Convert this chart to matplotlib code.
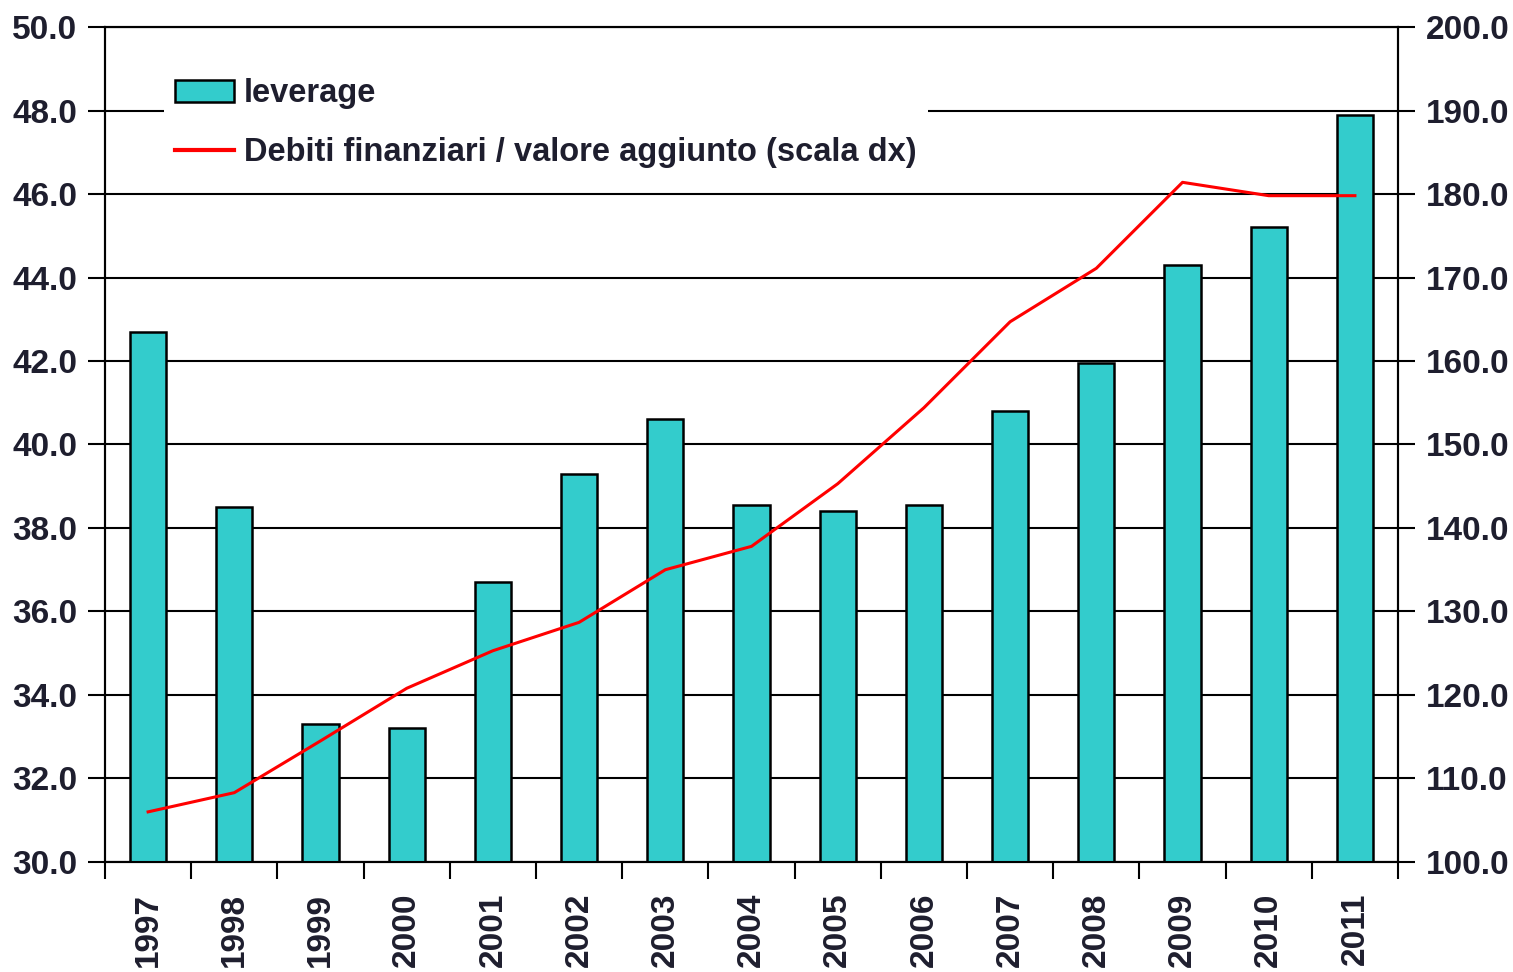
import matplotlib.pyplot as plt
from matplotlib.patches import Patch
from matplotlib.lines import Line2D

anni = ['1997', '1998', '1999', '2000', '2001', '2002', '2003', '2004',
        '2005', '2006', '2007', '2008', '2009', '2010', '2011']
leverage = [42.7, 38.5, 33.3, 33.2, 36.7, 39.3, 40.6, 38.55,
            38.4, 38.55, 40.8, 41.95, 44.3, 45.2, 47.9]
debiti_va = [106.0, 108.3, 114.5, 120.8, 125.3, 128.7, 135.0, 137.8,
             145.3, 154.4, 164.7, 171.1, 181.4, 179.8, 179.8]

sx_ticks = [30, 32, 34, 36, 38, 40, 42, 44, 46, 48, 50]
dx_ticks = [100, 110, 120, 130, 140, 150, 160, 170, 180, 190, 200]

plt.rcParams['font.family'] = ['Liberation Sans', 'DejaVu Sans']
colore_testo = '#1e1e2e'

fig = plt.figure(figsize=(15.13, 9.72), dpi=100)
ax = fig.add_axes([0.0694, 0.1132, 0.8546, 0.859])
ax2 = ax.twinx()

x = list(range(len(anni)))
ax.bar(x, leverage, width=0.42, color='#33CCCC', edgecolor='black',
       linewidth=1.8, zorder=3)
ax2.plot(x, debiti_va, color='#FF0000', linewidth=2.2, zorder=4)

ax.set_ylim(30, 50)
ax2.set_ylim(100, 200)
ax.set_xlim(-0.5, len(anni) - 0.5)
ax.set_yticks(sx_ticks)
ax.set_yticklabels([f'{v:.1f}' for v in sx_ticks])
ax2.set_yticks(dx_ticks)
ax2.set_yticklabels([f'{v:.1f}' for v in dx_ticks])
ax.grid(axis='y', color='black', linewidth=1.5, zorder=1)
ax.set_axisbelow(True)

# tacche ai bordi delle categorie, etichette al centro
ax.set_xticks([i - 0.5 for i in range(len(anni) + 1)])
ax.set_xticklabels([])
ax.set_xticks(x, minor=True)
ax.set_xticklabels(anni, minor=True, rotation=90, fontsize=24,
                   fontweight='bold', color=colore_testo)
ax.tick_params(axis='x', which='minor', length=0, pad=22)
ax.tick_params(axis='x', which='major', length=12, width=1.5, direction='out')
ax.tick_params(axis='y', length=12, width=1.5, labelsize=24, pad=8,
               labelcolor=colore_testo)
ax2.tick_params(axis='y', length=12, width=1.5, labelsize=24, pad=8,
                labelcolor=colore_testo)
for t in ax.get_yticklabels() + ax2.get_yticklabels():
    t.set_fontweight('bold')

for a in (ax, ax2):
    for s in a.spines.values():
        s.set_linewidth(1.5)

handles = [Patch(facecolor='#33CCCC', edgecolor='black', linewidth=1.8),
           Line2D([0], [0], color='#FF0000', linewidth=3)]
labels = ['leverage', 'Debiti finanziari / valore aggiunto (scala dx)']
leg = ax2.legend(handles, labels, loc='upper left',
                 bbox_to_anchor=(0.033, 0.972), frameon=True, fancybox=False,
                 edgecolor='none', facecolor='white', framealpha=1,
                 prop={'size': 23.5, 'weight': 'bold'},
                 handlelength=1.8, handleheight=0.65, handletextpad=0.3,
                 labelspacing=0.85, borderpad=0.35)
for t in leg.get_texts():
    t.set_color(colore_testo)
leg.set_zorder(10)

fig.savefig('out.png', dpi=100)
